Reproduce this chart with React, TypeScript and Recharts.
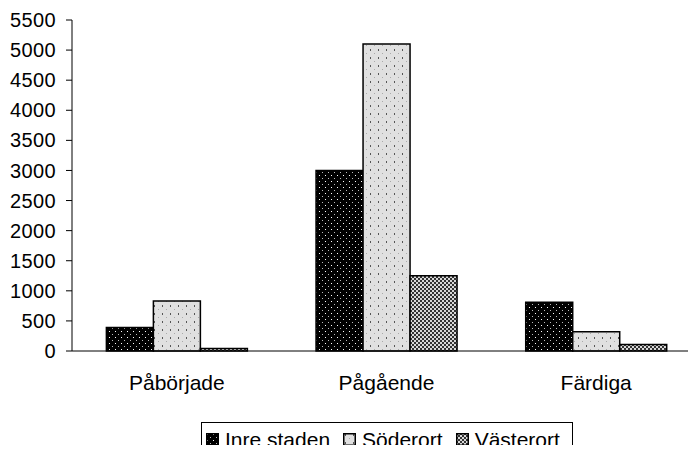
import React from 'react'
import { BarChart, Bar, XAxis, YAxis } from 'recharts'

const categories = ['Påbörjade', 'Pågående', 'Färdiga']
const inreStaden = [390, 3000, 810]
const soderort = [830, 5100, 320]
const vasterort = [40, 1250, 110]
const yTicks = [0, 500, 1000, 1500, 2000, 2500, 3000, 3500, 4000, 4500, 5000, 5500]

const data = categories.map((name, i) => ({
  name,
  inre: inreStaden[i],
  soder: soderort[i],
  vaster: vasterort[i],
}))

const FONT = 'Arial, "Liberation Sans", sans-serif'

// fill patterns imitating the old office-style hatches
function Patterns() {
  return (
    <defs>
      <pattern id="pInre" width="6" height="6" patternUnits="userSpaceOnUse">
        <rect width="6" height="6" fill="#000" />
        <rect x="1" y="1" width="1" height="1" fill="#fff" />
        <rect x="4" y="4" width="1" height="1" fill="#bbb" />
      </pattern>
      <pattern id="pSoder" width="8" height="8" patternUnits="userSpaceOnUse">
        <rect width="8" height="8" fill="#e0e0e0" />
        <rect x="2" y="1" width="1" height="2" fill="#555" />
        <rect x="6" y="5" width="1" height="1" fill="#aaa" />
      </pattern>
      <pattern id="pVaster" width="4" height="4" patternUnits="userSpaceOnUse">
        <rect width="4" height="4" fill="#d8d8d8" />
        <rect x="0" y="0" width="2" height="2" fill="#333" />
        <rect x="2" y="2" width="2" height="2" fill="#333" />
      </pattern>
    </defs>
  )
}

const legendItems = [
  { label: 'Inre staden', fill: 'url(#pInre)' },
  { label: 'Söderort', fill: 'url(#pSoder)' },
  { label: 'Västerort', fill: 'url(#pVaster)' },
]

export default function App() {
  return (
    <div style={{ position: 'relative', width: 696, height: 453, margin: -8, background: '#fff', fontFamily: FONT, overflow: 'hidden' }}>
      {/* plot runs a little past the right edge, like the original export */}
      <BarChart
        width={705}
        height={453}
        data={data}
        margin={{ top: 20, right: 4, left: 0, bottom: 0 }}
        barCategoryGap="16.4%"
        barGap={0}
      >
        <Patterns />
        <XAxis
          dataKey="name"
          height={102}
          tickLine={false}
          tickSize={0}
          tickMargin={24}
          axisLine={{ stroke: '#000', strokeWidth: 1 }}
          tick={{ fontSize: 21, fill: '#000', fontFamily: FONT }}
        />
        <YAxis
          width={72}
          domain={[0, 5500]}
          ticks={yTicks}
          interval={0}
          tickSize={6}
          tickMargin={10}
          axisLine={{ stroke: '#000', strokeWidth: 1 }}
          tickLine={{ stroke: '#000' }}
          tick={{ fontSize: 20, fill: '#000', fontFamily: FONT, letterSpacing: 0.4 }}
        />
        <Bar dataKey="inre" fill="url(#pInre)" stroke="#000" strokeWidth={1.5} isAnimationActive={false} />
        <Bar dataKey="soder" fill="url(#pSoder)" stroke="#000" strokeWidth={1.5} isAnimationActive={false} />
        <Bar dataKey="vaster" fill="url(#pVaster)" stroke="#000" strokeWidth={1.5} isAnimationActive={false} />
      </BarChart>
      <div
        style={{
          position: 'absolute',
          left: 201,
          top: 422,
          width: 372,
          height: 40,
          border: '1px solid #000',
          boxSizing: 'border-box',
          display: 'flex',
          flexWrap: 'nowrap',
          alignItems: 'flex-start',
          paddingTop: 6,
          paddingLeft: 4,
          fontSize: 21,
          lineHeight: '21px',
          color: '#000',
          whiteSpace: 'nowrap',
        }}
      >
        {legendItems.map((it) => (
          <div key={it.label} style={{ display: 'flex', alignItems: 'center', height: 21, marginRight: 13, flexShrink: 0 }}>
            <svg width={13} height={13} style={{ display: 'block', marginRight: 6, flexShrink: 0 }}>
              <rect x={0.75} y={0.75} width={11.5} height={11.5} fill={it.fill} stroke="#000" strokeWidth={1.5} />
            </svg>
            <span style={{ display: 'block', height: 21 }}>{it.label}</span>
          </div>
        ))}
      </div>
    </div>
  )
}
